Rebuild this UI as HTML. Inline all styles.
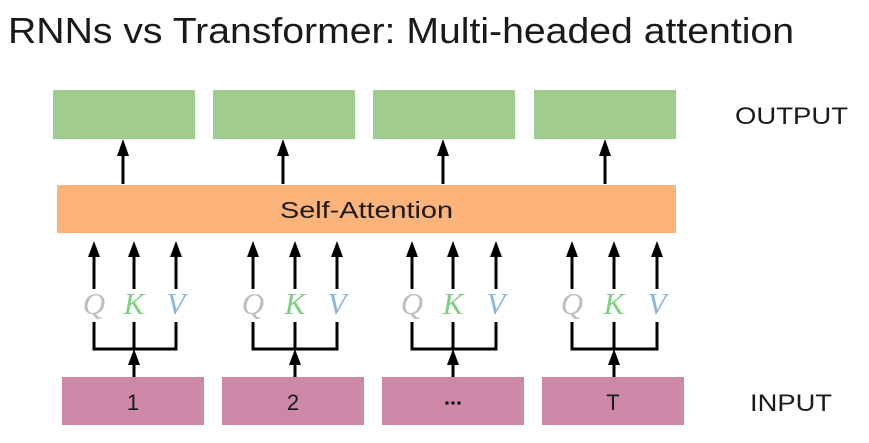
<!DOCTYPE html>
<html><head><style>
html,body{margin:0;padding:0;background:#fff;}
svg{display:block;}
</style></head><body>
<svg width="869" height="443" viewBox="0 0 869 443" xmlns="http://www.w3.org/2000/svg">
<rect width="869" height="443" fill="#fff"/>
<text x="8" y="43" font-family="Liberation Sans, sans-serif" font-size="36" fill="#1a1a1a" textLength="786" lengthAdjust="spacingAndGlyphs">RNNs vs Transformer: Multi-headed attention</text>

<g fill="#a0cd8f">
<rect x="53" y="90" width="142" height="49"/>
<rect x="213" y="90" width="142" height="49"/>
<rect x="373" y="90" width="142" height="49"/>
<rect x="534" y="90" width="142" height="49"/>
</g>
<rect x="57" y="185" width="619" height="48" fill="#fdb47a"/>
<text x="280" y="218" font-family="Liberation Sans, sans-serif" font-size="23" fill="#1a1a1a" textLength="173" lengthAdjust="spacingAndGlyphs">Self-Attention</text>

<g fill="#cd88a8">
<rect x="62" y="377" width="142" height="48"/>
<rect x="222" y="377" width="142" height="48"/>
<rect x="382" y="377" width="142" height="48"/>
<rect x="542" y="377" width="142" height="48"/>
</g>
<g font-family="Liberation Sans, sans-serif" font-size="22" fill="#1a1a1a" text-anchor="middle">
<text x="133" y="410">1</text>
<text x="293" y="410">2</text>
<text x="613" y="410">T</text>
</g>
<g fill="#1a1a1a">
<circle cx="447" cy="403" r="1.8"/><circle cx="453" cy="403" r="1.8"/><circle cx="459" cy="403" r="1.8"/>
</g>
<g font-family="Liberation Sans, sans-serif" font-size="24" fill="#1a1a1a">
<text x="735" y="124" textLength="113" lengthAdjust="spacingAndGlyphs">OUTPUT</text>
<text x="750" y="411" textLength="82" lengthAdjust="spacingAndGlyphs">INPUT</text>
</g>

<g stroke="#000" stroke-width="3" fill="none">
<line x1="123" y1="184" x2="123" y2="150"/>
<line x1="283" y1="184" x2="283" y2="150"/>
<line x1="443" y1="184" x2="443" y2="150"/>
<line x1="605" y1="184" x2="605" y2="150"/>
</g>
<g fill="#000">
<polygon points="123,139 117,156 129,156"/>
<polygon points="283,139 277,156 289,156"/>
<polygon points="443,139 437,156 449,156"/>
<polygon points="605,139 599,156 611,156"/>
</g>

<g stroke="#000" stroke-width="3" fill="none">
<path d="M94,289V250 M134,289V250 M176,289V250"/>
<path d="M94,322V349H176V322 M134,322V349 M134,377V360"/>
<path d="M253,289V250 M295,289V250 M337,289V250"/>
<path d="M253,322V349H337V322 M295,322V349 M295,377V360"/>
<path d="M412,289V250 M453,289V250 M496,289V250"/>
<path d="M412,322V349H496V322 M453,322V349 M453,377V360"/>
<path d="M572,289V250 M614,289V250 M657,289V250"/>
<path d="M572,322V349H657V322 M614,322V349 M614,377V360"/>
</g>
<g fill="#000">
<polygon points="94,241 88,257 100,257"/><polygon points="134,241 128,257 140,257"/><polygon points="176,241 170,257 182,257"/>
<polygon points="253,241 247,257 259,257"/><polygon points="295,241 289,257 301,257"/><polygon points="337,241 331,257 343,257"/>
<polygon points="412,241 406,257 418,257"/><polygon points="453,241 447,257 459,257"/><polygon points="496,241 490,257 502,257"/>
<polygon points="572,241 566,257 578,257"/><polygon points="614,241 608,257 620,257"/><polygon points="657,241 651,257 663,257"/>
<polygon points="134,349 128,365 140,365"/><polygon points="295,349 289,365 301,365"/>
<polygon points="453,349 447,365 459,365"/><polygon points="614,349 608,365 620,365"/>
</g>
<g font-family="Liberation Serif, serif" font-style="italic" font-size="31" text-anchor="middle">
<text x="94" y="314" fill="#bdbdbd">Q</text><text x="134" y="314" fill="#7fcf80">K</text><text x="176" y="314" fill="#86b8e2">V</text>
<text x="253" y="314" fill="#bdbdbd">Q</text><text x="295" y="314" fill="#7fcf80">K</text><text x="337" y="314" fill="#86b8e2">V</text>
<text x="412" y="314" fill="#bdbdbd">Q</text><text x="453" y="314" fill="#7fcf80">K</text><text x="496" y="314" fill="#86b8e2">V</text>
<text x="572" y="314" fill="#bdbdbd">Q</text><text x="614" y="314" fill="#7fcf80">K</text><text x="657" y="314" fill="#86b8e2">V</text>
</g>
</svg>
</body></html>
